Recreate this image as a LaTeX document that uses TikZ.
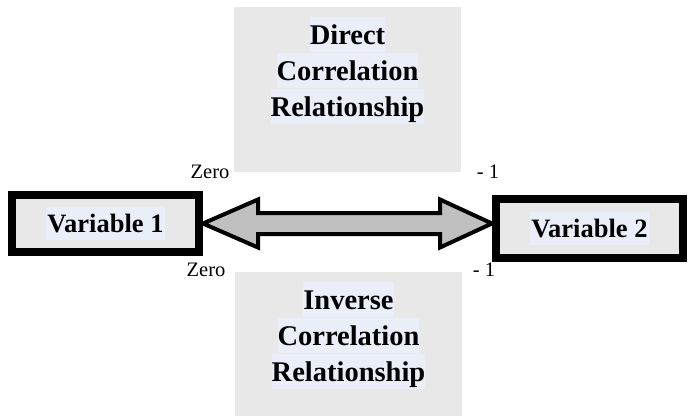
\documentclass[tikz,border=0pt]{standalone}
\usepackage{fontspec}
\setmainfont{Liberation Serif}
\usetikzlibrary{positioning, calc}
\definecolor{boxgray}{HTML}{E8E8E8}
\definecolor{hlblue}{HTML}{EAEEF8}
\definecolor{arrowgray}{HTML}{C0C0C0}
\newcommand{\hl}[1]{{\setlength{\fboxsep}{0pt}\colorbox{hlblue}{\rule[-0.28em]{0pt}{1.23em}#1}}}

\begin{document}
\begin{tikzpicture}[x=1pt, y=1pt,
    panel/.style={fill=boxgray, minimum width=227pt, inner sep=0pt},
    var/.style={draw, line width=8pt, fill=boxgray, minimum width=187pt,
        inner sep=0pt, font=\fontsize{26.5}{30}\selectfont\bfseries},
    hdr/.style={align=center, inner sep=0pt,
        font=\fontsize{28.5}{34.5}\selectfont\bfseries},
    lbl/.style={inner sep=0pt, anchor=base, font=\fontsize{20.5}{24}\selectfont}]
    \useasboundingbox (0,0) rectangle (689,416);
    \node[panel, minimum height=165pt] (dir) at (347.5,326.5) {};
    \node[panel, minimum height=144pt] (inv) at (348.5,72) {};
    \node[hdr, below=10pt of dir.north] (dirt) {\hl{Direct}\\\hl{Correlation}\\\hl{Relationship}};
    \node[hdr, below=10pt of inv.north] (invt) {\hl{Inverse}\\\hl{Correlation}\\\hl{Relationship}};
    \node[var, minimum height=57pt] (v1) at (105.5,192.5) {\hl{\kern1pt Variable 1\kern1pt}};
    \node[var, minimum height=59pt] (v2) at (589.5,187.5) {\hl{\kern1pt Variable 2\kern1pt}};
    % block arrow between the two variables
    \draw[line width=4pt, fill=arrowgray] (v1.east) -- ++(55,24) -- ++(0,-13.5)
        -- ($(v1.east -| v2.west)+(-52,10.5)$) -- ++(0,13.5) -- (v1.east -| v2.west)
        -- ++(-52,-24) -- ++(0,13.5) -- ($(v1.east)+(55,-10.5)$) -- ++(0,-13.5) -- cycle;
    \node[lbl] (z1) at (210,237) {Zero};
    \node[lbl] (m1) at (488,237) {- 1};
    \node[lbl] (z2) at (206,140) {Zero};
    \node[lbl] (m2) at (484,140) {- 1};
\end{tikzpicture}
\end{document}
